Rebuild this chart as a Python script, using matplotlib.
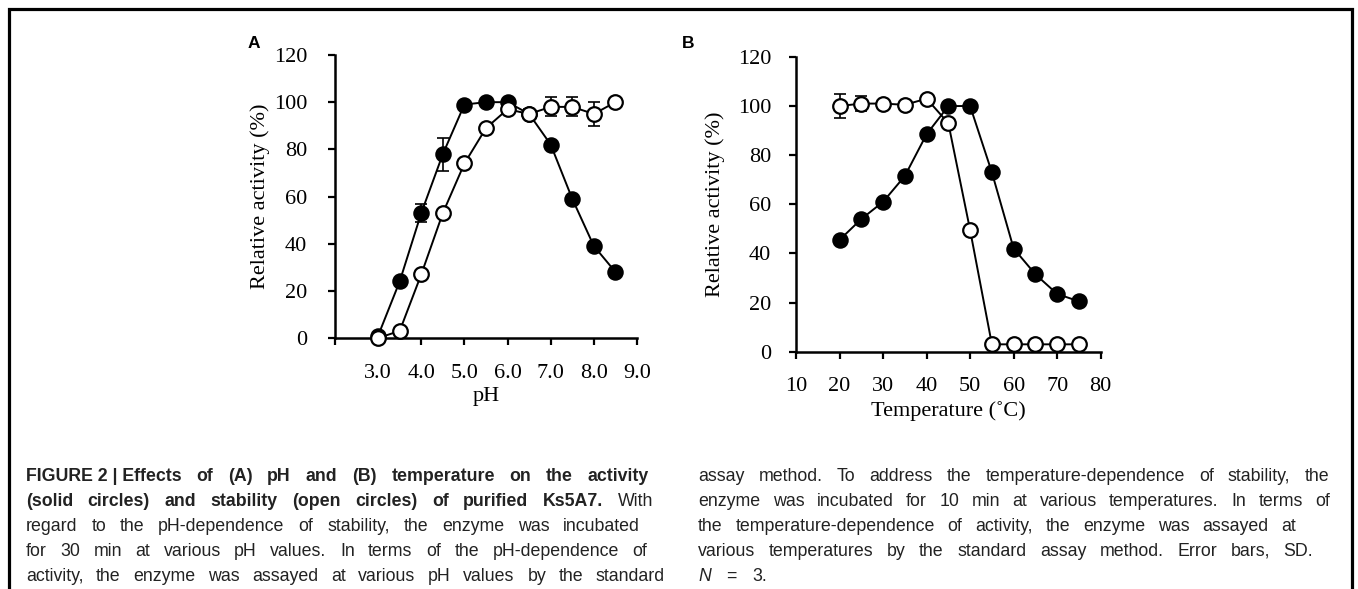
import matplotlib
matplotlib.use("Agg")
import matplotlib.pyplot as plt
from matplotlib.patches import Rectangle

# ---------------- data ----------------
ph = [3.0, 3.5, 4.0, 4.5, 5.0, 5.5, 6.0, 6.5, 7.0, 7.5, 8.0, 8.5]
ph_activity = [1, 24, 53, 78, 99, 100, 100, 95, 82, 59, 39, 28]
ph_activity_err = [0, 0, 4, 7, 0, 0, 0, 0, 0, 0, 0, 0]
ph_stability = [0, 3, 27, 53, 74, 89, 97, 95, 98, 98, 95, 100]
ph_stability_err = [0, 0, 0, 0, 0, 0, 0, 2, 4, 4, 5, 1]

temp = [20, 25, 30, 35, 40, 45, 50, 55, 60, 65, 70, 75]
temp_activity = [45.5, 54, 61, 71.5, 88.5, 100, 100, 73, 42, 31.5, 23.5, 20.5]
temp_activity_err = [0, 0, 0, 0, 0, 0, 0, 0, 0, 0, 0, 0]
temp_stability = [100, 101, 101, 100.5, 103, 93, 49.5, 3, 3, 3, 3, 3]
temp_stability_err = [5, 3, 1, 0, 0, 0, 0, 0, 0, 0, 0, 0]

ph_ticks = [2, 3, 4, 5, 6, 7, 8, 9]
ph_ticklabels = ["", "3.0", "4.0", "5.0", "6.0", "7.0", "8.0", "9.0"]
temp_ticks = [10, 20, 30, 40, 50, 60, 70, 80]
y_ticks = [0, 20, 40, 60, 80, 100, 120]

# ---------------- figure ----------------
W, H = 1358, 589
fig = plt.figure(figsize=(W / 100, H / 100), dpi=100)

SERIF = ["Liberation Serif", "DejaVu Serif"]
SANS = ["Liberation Sans", "DejaVu Sans"]


def fx(x):
    return x / W


def fy(y):
    return 1 - y / H


axA = fig.add_axes([fx(335), fy(338), 302 / W, 283 / H])
axB = fig.add_axes([fx(796), fy(351.7), 304.7 / W, 294.8 / H])


def style_axis(ax):
    for s in ["top", "right"]:
        ax.spines[s].set_visible(False)
    for s in ["left", "bottom"]:
        ax.spines[s].set_linewidth(1.8)
        ax.spines[s].set_color("black")
    ax.tick_params(direction="out", length=5, width=1.6, labelsize=16, colors="black")
    for lab in ax.get_xticklabels() + ax.get_yticklabels():
        lab.set_family(SERIF)


def draw_series(ax, x, y_act, e_act, y_stab, e_stab):
    ax.errorbar(x, y_act, yerr=e_act, fmt="none", ecolor="black",
                elinewidth=1.2, capsize=4, capthick=1.2, zorder=2, clip_on=False)
    ax.errorbar(x, y_stab, yerr=e_stab, fmt="none", ecolor="black",
                elinewidth=1.2, capsize=4, capthick=1.2, zorder=2, clip_on=False)
    ax.plot(x, y_act, "-o", color="black", lw=1.4, ms=10.5,
            mfc="black", mec="black", mew=1.4, zorder=3, clip_on=False)
    ax.plot(x, y_stab, "-o", color="black", lw=1.4, ms=10.5,
            mfc="white", mec="black", mew=1.6, zorder=4, clip_on=False)


# Panel A
draw_series(axA, ph, ph_activity, ph_activity_err, ph_stability, ph_stability_err)
axA.set_xlim(2, 9)
axA.set_ylim(0, 120)
axA.set_xticks(ph_ticks)
axA.set_xticklabels(ph_ticklabels)
axA.set_yticks(y_ticks)
style_axis(axA)
axA.tick_params(axis="y", pad=15)
axA.tick_params(axis="x", pad=14)
axA.set_xlabel("pH", fontsize=16, family=SERIF)
axA.xaxis.set_label_coords(0.5, -0.172)
axA.xaxis.label.set_va("top")
axA.set_ylabel("Relative activity (%)", fontsize=16, family=SERIF)
axA.yaxis.set_label_coords(-0.215, 0.5)

# Panel B
draw_series(axB, temp, temp_activity, temp_activity_err, temp_stability, temp_stability_err)
axB.set_xlim(10, 80)
axB.set_ylim(0, 120)
axB.set_xticks(temp_ticks)
axB.set_yticks(y_ticks)
style_axis(axB)
axB.tick_params(axis="y", pad=13)
axB.tick_params(axis="x", pad=13)
axB.set_xlabel("Temperature (˚C)", fontsize=16, family=SERIF)
axB.xaxis.set_label_coords(0.5, -0.168)
axB.xaxis.label.set_va("top")
axB.set_ylabel("Relative activity (%)", fontsize=16, family=SERIF)
axB.yaxis.set_label_coords(-0.233, 0.5)

# panel letters
fig.text(fx(248), fy(48), "A", fontsize=12.5, fontweight="bold", family=SANS,
         ha="left", va="baseline")
fig.text(fx(682), fy(48), "B", fontsize=12.5, fontweight="bold", family=SANS,
         ha="left", va="baseline")

# frame around figure
fig.add_artist(Rectangle((fx(9), -0.1), (1352 - 9) / W, fy(9) + 0.1,
                         fill=False, lw=2.3, edgecolor="black",
                         transform=fig.transFigure, clip_on=False))

# ---------------- caption (justified lines) ----------------
CAP_FS = 12.8
CAP_COLOR = "#222222"
renderer = fig.canvas.get_renderer()


def justify(tokens, x0, x1, ybase):
    texts = []
    widths = []
    for s, w, st in tokens:
        t = fig.text(0, 0, s, fontsize=CAP_FS, fontweight=w, fontstyle=st,
                     family=SANS, color=CAP_COLOR, ha="left", va="baseline")
        bb = t.get_window_extent(renderer)
        texts.append(t)
        widths.append(bb.width)
    n = len(texts)
    gap = (x1 - x0 - sum(widths)) / (n - 1) if n > 1 else 0
    x = x0
    for t, wd in zip(texts, widths):
        t.set_position((fx(x), fy(ybase)))
        x += wd + gap


def words(s, w="normal", st="normal"):
    return [(p, w, st) for p in s.split(" ")]


B_ = "bold"
left_lines = [
    ([("FIGURE 2 | Effects", B_, "normal")] + words("of (A) pH and (B) temperature on the activity", B_), 649),
    (words("(solid circles) and stability (open circles) of purified Ks5A7.", B_) + words("With"), 653),
    (words("regard to the pH-dependence of stability, the enzyme was incubated"), 640),
    (words("for 30 min at various pH values. In terms of the pH-dependence of"), 647),
    (words("activity, the enzyme was assayed at various pH values by the standard"), 665),
]
right_lines = [
    (words("assay method. To address the temperature-dependence of stability, the"), 1329),
    (words("enzyme was incubated for 10 min at various temperatures. In terms of"), 1330),
    (words("the temperature-dependence of activity, the enzyme was assayed at"), 1296),
    (words("various temperatures by the standard assay method. Error bars, SD."), 1313),
    ([("N", "normal", "italic"), ("=", "normal", "normal"), ("3.", "normal", "normal")], 767),
]
baselines = [481, 506, 531, 556, 581]
for (toks, xe), yb in zip(left_lines, baselines):
    justify(toks, 26, xe, yb)
for (toks, xe), yb in zip(right_lines, baselines):
    justify(toks, 698, xe, yb)

fig.savefig("out.png", dpi=100)
